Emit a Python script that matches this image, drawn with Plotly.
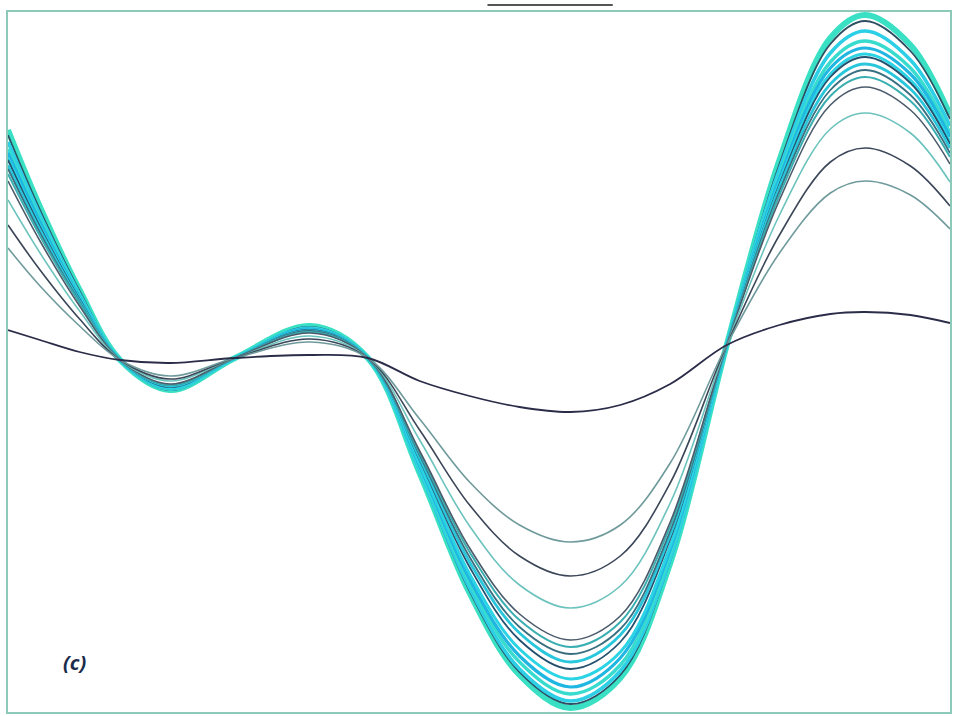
import plotly.graph_objects as go

# x positions (arbitrary units across the panel)
x_pos = [0, 0.34, 0.76, 1.19, 1.72, 2.41, 3.21, 3.82, 4.37, 4.90,
         5.43, 5.97, 6.50, 7.03, 7.63, 8.19, 8.73, 9.10, 9.58, 10.0]

# flattest (darkest) response
curve_0 = [0.21, 0.11, -0.01, -0.09, -0.12, -0.07, -0.04, -0.07, -0.30, -0.45,
           -0.56, -0.61, -0.54, -0.33, 0.06, 0.26, 0.37, 0.39, 0.36, 0.28]
curve_1 = [1.03, 0.65, 0.25, -0.09, -0.25, -0.07, 0.09, -0.07, -0.68, -1.31,
           -1.74, -1.91, -1.74, -1.12, 0.06, 0.98, 1.58, 1.70, 1.56, 1.22]
curve_2 = [1.26, 0.81, 0.32, -0.09, -0.28, -0.07, 0.12, -0.07, -0.79, -1.54,
           -2.05, -2.25, -2.05, -1.32, 0.06, 1.16, 1.89, 2.03, 1.85, 1.45]
curve_3 = [1.51, 0.98, 0.40, -0.09, -0.30, -0.07, 0.15, -0.07, -0.89, -1.75,
           -2.34, -2.57, -2.35, -1.52, 0.06, 1.36, 2.22, 2.38, 2.18, 1.69]
curve_4 = [1.70, 1.10, 0.45, -0.09, -0.33, -0.07, 0.18, -0.07, -1.00, -1.97,
           -2.63, -2.89, -2.65, -1.71, 0.06, 1.51, 2.46, 2.64, 2.41, 1.87]
curve_5 = [1.77, 1.15, 0.48, -0.09, -0.34, -0.07, 0.19, -0.07, -1.02, -2.01,
           -2.69, -2.96, -2.71, -1.75, 0.06, 1.56, 2.55, 2.74, 2.50, 1.94]
curve_6 = [1.82, 1.18, 0.49, -0.09, -0.34, -0.07, 0.20, -0.07, -1.04, -2.06,
           -2.76, -3.03, -2.78, -1.80, 0.06, 1.60, 2.61, 2.81, 2.56, 1.98]
curve_7 = [1.86, 1.21, 0.50, -0.09, -0.35, -0.07, 0.20, -0.07, -1.07, -2.11,
           -2.82, -3.11, -2.84, -1.84, 0.06, 1.64, 2.67, 2.87, 2.62, 2.03]
curve_8 = [1.91, 1.24, 0.52, -0.09, -0.36, -0.07, 0.21, -0.07, -1.09, -2.16,
           -2.89, -3.18, -2.91, -1.88, 0.06, 1.67, 2.74, 2.94, 2.68, 2.07]
curve_9 = [1.93, 1.25, 0.53, -0.09, -0.37, -0.07, 0.21, -0.07, -1.13, -2.23,
           -2.98, -3.28, -3.01, -1.95, 0.06, 1.69, 2.77, 2.97, 2.71, 2.09]
curve_10 = [1.98, 1.29, 0.54, -0.09, -0.37, -0.07, 0.22, -0.07, -1.15, -2.28,
            -3.05, -3.36, -3.07, -1.99, 0.06, 1.73, 2.83, 3.03, 2.77, 2.14]
curve_11 = [2.02, 1.32, 0.55, -0.09, -0.38, -0.07, 0.22, -0.07, -1.17, -2.32,
            -3.11, -3.43, -3.14, -2.03, 0.06, 1.76, 2.89, 3.10, 2.83, 2.18]
curve_12 = [2.09, 1.36, 0.57, -0.09, -0.38, -0.07, 0.23, -0.07, -1.20, -2.37,
            -3.18, -3.50, -3.20, -2.08, 0.06, 1.82, 2.98, 3.20, 2.91, 2.25]
curve_13 = [2.16, 1.41, 0.60, -0.09, -0.39, -0.07, 0.24, -0.07, -1.21, -2.40,
            -3.21, -3.53, -3.24, -2.10, 0.06, 1.87, 3.07, 3.30, 3.00, 2.32]
curve_14 = [2.21, 1.44, 0.61, -0.09, -0.39, -0.07, 0.25, -0.07, -1.22, -2.42,
            -3.24, -3.57, -3.27, -2.12, 0.06, 1.91, 3.13, 3.36, 3.06, 2.36]

panel_label = "(c)"

# drawing order: widest first so thinner ones sit on top
series = [
    (curve_14, "#3ae0c4", 6.0),
    (curve_13, "#2d4f63", 1.8),
    (curve_12, "#2ccfe6", 3.6),
    (curve_11, "#38dccf", 3.4),
    (curve_10, "#1fb6e2", 3.2),
    (curve_9, "#2ad4e4", 3.0),
    (curve_8, "#24506e", 1.8),
    (curve_7, "#29c7dc", 2.8),
    (curve_6, "#3a6f80", 1.8),
    (curve_5, "#3aaeb0", 2.0),
    (curve_4, "#4c5b6b", 1.6),
    (curve_3, "#6cc3bd", 1.6),
    (curve_2, "#3b4658", 1.6),
    (curve_1, "#6f9a9c", 1.6),
    (curve_0, "#2a2c48", 1.8),
]

fig = go.Figure()
for ys, col, w in series:
    fig.add_trace(go.Scatter(x=x_pos, y=ys, mode="lines",
                             line=dict(color=col, width=w, shape="spline", smoothing=1.0),
                             showlegend=False, hoverinfo="skip"))

fig.add_annotation(x=0.071, y=0.071, xref="paper", yref="paper",
                   text="<b><i>" + panel_label + "</i></b>", showarrow=False,
                   font=dict(family="Open Sans, DejaVu Sans, sans-serif", size=20, color="#1c2c4c"),
                   xanchor="center", yanchor="middle")

# cropped legend stroke above the frame
fig.add_shape(type="line", xref="paper", yref="paper", x0=0.509, x1=0.642, y0=1.01, y1=1.01,
              line=dict(color="#555555", width=2))

axis_common = dict(showgrid=False, zeroline=False, showticklabels=False, ticks="",
                   showline=True, mirror=True, linecolor="#8cc9b9", linewidth=2)
fig.update_xaxes(range=[0, 10], **axis_common)
fig.update_yaxes(range=[-3.61, 3.39], **axis_common)

fig.update_layout(width=955, height=716, margin=dict(l=8, r=5, t=12, b=4),
                  plot_bgcolor="white", paper_bgcolor="white")

fig.write_html("out.html")
